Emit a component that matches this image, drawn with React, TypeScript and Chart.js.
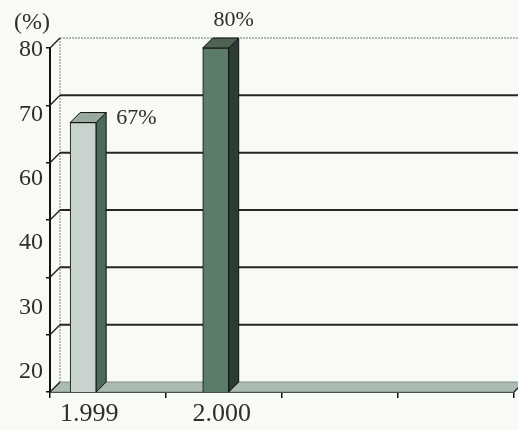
import React, { useEffect, useRef } from "react";
import { Chart, registerables } from "chart.js";

Chart.register(...registerables);

// ---- data ----
const categories = ["1.999", "", "2.000", "", "", "", ""];
const values: (number | null)[] = [67, null, 80, null, null, null, null];
const valueLabels = ["67%", "", "80%"];
const valueLabelSide = ["right", "", "top"];
const yTickLabels = ["80", "70", "60", "40", "30", "20"];
const yUnit = "(%)";
const xTickSlots = ["", "", "", ""];

// ---- style ----
const FONT = "'Liberation Serif', 'Times New Roman', serif";
const TEXT = "#2e2e2e";
const BG = "#f7faf5";
const DX = 10;
const DY = -10;
const frontColors = ["#c9d3ce", "#999", "#5d7b69"];
const topColors = ["#98aa9d", "#999", "#4d6453"];
const sideColors = ["#4c6a58", "#999", "#2c3c32"];

const threeD = {
  id: "threeD",
  beforeDraw(chart: any) {
    const { ctx, width, height } = chart;
    ctx.save();
    ctx.fillStyle = BG;
    ctx.fillRect(0, 0, width, height);
    ctx.restore();
  },
  beforeDatasetsDraw(chart: any) {
    const { ctx, chartArea, scales } = chart;
    const { left, right, bottom } = chartArea;
    const y = scales.y;
    ctx.save();
    // floor
    ctx.beginPath();
    ctx.moveTo(left, bottom);
    ctx.lineTo(right, bottom);
    ctx.lineTo(right + DX, bottom + DY);
    ctx.lineTo(left + DX, bottom + DY);
    ctx.closePath();
    ctx.fillStyle = "#aabbb0";
    ctx.fill();
    ctx.strokeStyle = "#7f9084";
    ctx.lineWidth = 1;
    ctx.stroke();
    ctx.beginPath();
    ctx.moveTo(right, bottom);
    ctx.lineTo(right + DX, bottom + DY);
    ctx.strokeStyle = "#222";
    ctx.lineWidth = 1.5;
    ctx.stroke();
    // left wall edge
    ctx.beginPath();
    ctx.setLineDash([2, 1]);
    ctx.moveTo(left + DX, y.getPixelForValue(y.max) + DY);
    ctx.lineTo(left + DX, bottom + DY);
    ctx.strokeStyle = "#a8aca8";
    ctx.lineWidth = 1.5;
    ctx.stroke();
    ctx.setLineDash([]);
    // gridlines on the back wall
    y.ticks.forEach((t: any) => {
      const py = y.getPixelForValue(t.value);
      if (t.value === y.max) {
        ctx.beginPath();
        ctx.setLineDash([2, 1]);
        ctx.moveTo(left + DX, py + DY);
        ctx.lineTo(right + DX, py + DY);
        ctx.strokeStyle = "#a0a4a0";
        ctx.lineWidth = 1.5;
        ctx.stroke();
        ctx.setLineDash([]);
      } else if (t.value !== y.min) {
        ctx.beginPath();
        ctx.moveTo(left + DX, py + DY);
        ctx.lineTo(right + DX, py + DY);
        ctx.strokeStyle = "#262626";
        ctx.lineWidth = 2;
        ctx.stroke();
      }
      // connector from front axis to back wall
      ctx.beginPath();
      ctx.moveTo(left, py);
      ctx.lineTo(left + DX, py + DY);
      ctx.strokeStyle = "#222";
      ctx.lineWidth = 1.5;
      ctx.stroke();
    });
    // bar sides and tops
    const meta = chart.getDatasetMeta(0);
    meta.data.forEach((bar: any, i: number) => {
      if (values[i] == null) return;
      const p = bar.getProps(["x", "y", "base", "width"], true);
      const x = p.x;
      const by = p.y;
      const w = p.width;
      const base = Math.min(p.base, bottom);
      const l = x - w / 2;
      const r = x + w / 2;
      ctx.lineWidth = 1;
      ctx.strokeStyle = "#111";
      // side
      ctx.beginPath();
      ctx.moveTo(r, by);
      ctx.lineTo(r + DX, by + DY);
      ctx.lineTo(r + DX, base + DY);
      ctx.lineTo(r, base);
      ctx.closePath();
      ctx.fillStyle = sideColors[i];
      ctx.fill();
      ctx.stroke();
      // top
      ctx.beginPath();
      ctx.moveTo(l, by);
      ctx.lineTo(l + DX, by + DY);
      ctx.lineTo(r + DX, by + DY);
      ctx.lineTo(r, by);
      ctx.closePath();
      ctx.fillStyle = topColors[i];
      ctx.fill();
      ctx.stroke();
    });
    ctx.restore();
  },
  afterDatasetsDraw(chart: any) {
    const { ctx, chartArea } = chart;
    ctx.save();
    ctx.fillStyle = TEXT;
    ctx.font = `22px ${FONT}`;
    const meta = chart.getDatasetMeta(0);
    meta.data.forEach((bar: any, i: number) => {
      if (values[i] == null || !valueLabels[i]) return;
      const { x, y: by, width: w } = bar.getProps(["x", "y", "width"], true);
      if (valueLabelSide[i] === "right") {
        ctx.textAlign = "left";
        ctx.textBaseline = "middle";
        ctx.fillText(valueLabels[i], x + w / 2 + DX + 10, by - 4);
      } else {
        ctx.textAlign = "center";
        ctx.textBaseline = "middle";
        ctx.fillText(valueLabels[i], x + w / 2 + 5, by + DY - 18);
      }
    });
    // unit label
    ctx.font = `24px ${FONT}`;
    ctx.textAlign = "left";
    ctx.textBaseline = "middle";
    ctx.fillText(yUnit, chartArea.left - 36, chartArea.top - 25);
    ctx.restore();
  },
};

export default function App() {
  const ref = useRef<HTMLCanvasElement>(null);
  useEffect(() => {
    if (!ref.current) return;
    const chart = new Chart(ref.current, {
      type: "bar",
      data: {
        labels: categories,
        datasets: [
          {
            data: values,
            xAxisID: "x",
            yAxisID: "y",
            backgroundColor: frontColors,
            borderColor: "#111",
            borderWidth: 1,
            barThickness: 26,
          },
        ],
      },
      options: {
        responsive: false,
        animation: false,
        devicePixelRatio: 1,
        layout: { padding: { left: 0, top: 48, right: 4, bottom: 0 } },
        plugins: {
          legend: { display: false },
          tooltip: { enabled: false },
          title: { display: false },
        },
        scales: {
          x: {
            type: "category",
            position: "bottom",
            offset: true,
            weight: 1,
            grid: { display: false },
            border: { display: false },
            ticks: {
              color: TEXT,
              font: { family: FONT, size: 26 },
              padding: -1,
              labelOffset: 6,
              maxRotation: 0,
              autoSkip: false,
            },
            afterFit(scale: any) {
              scale.height = 38;
            },
          },
          xt: {
            type: "category",
            position: "bottom",
            labels: xTickSlots,
            offset: true,
            weight: 0,
            grid: {
              display: true,
              drawOnChartArea: false,
              drawTicks: true,
              tickLength: 6,
              color: "#111",
              lineWidth: 1.5,
              offset: true,
            },
            border: { display: true, color: "#111", width: 2 },
            ticks: { display: false },
            afterFit(scale: any) {
              scale.height = 0;
            },
          },
          y: {
            type: "linear",
            position: "left",
            min: 20,
            max: 80,
            weight: 0,
            ticks: { display: false, stepSize: 10 },
            grid: {
              display: true,
              drawOnChartArea: false,
              drawTicks: true,
              tickLength: 4,
              color: "#111",
              lineWidth: 1.5,
            },
            border: { display: true, color: "#111", width: 2 },
            afterFit(scale: any) {
              scale.width = 4;
            },
          },
          yl: {
            type: "linear",
            position: "left",
            reverse: true,
            min: -0.03,
            max: 5.31,
            weight: 1,
            grid: { display: false },
            border: { display: false },
            afterBuildTicks(scale: any) {
              scale.ticks = yTickLabels.map((_, i) => ({ value: i }));
            },
            ticks: {
              padding: -5,
              autoSkip: false,
              color: TEXT,
              font: { family: FONT, size: 24 },
              callback: (v: any) => yTickLabels[v as number] ?? "",
            },
            afterFit(scale: any) {
              scale.width = 46;
            },
          },
        },
      },
      plugins: [threeD],
    } as any);
    return () => chart.destroy();
  }, []);
  return (
    <div style={{ position: "fixed", left: 0, top: 0, width: 518, height: 430, background: BG }}>
      <canvas ref={ref} width={518} height={430} style={{ display: "block", width: 518, height: 430 }} />
    </div>
  );
}
